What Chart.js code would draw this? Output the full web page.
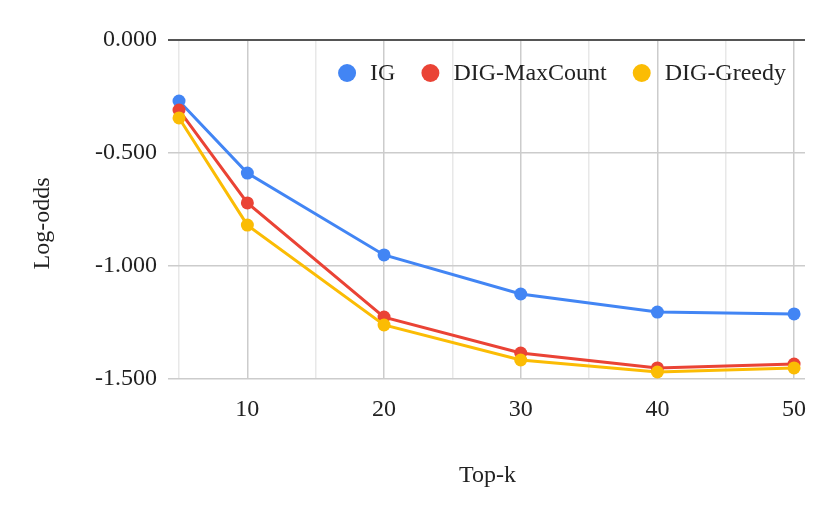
<!DOCTYPE html>
<html>
<head>
<meta charset="utf-8">
<script src="https://cdn.jsdelivr.net/npm/chart.js@4.4.1/dist/chart.umd.min.js"></script>
<style>
html,body{margin:0;padding:0;background:#fff;}
#wrap{width:830px;height:514px;}
</style>
</head>
<body>
<div id="wrap"><canvas id="c" width="830" height="514"></canvas></div>
<script>
const topK = [5, 10, 20, 30, 40, 50];
const igValues = [-0.270, -0.589, -0.951, -1.124, -1.204, -1.212];
const maxCountValues = [-0.310, -0.721, -1.226, -1.385, -1.451, -1.434];
const greedyValues = [-0.345, -0.819, -1.261, -1.416, -1.469, -1.451];
const seriesNames = ['IG', 'DIG-MaxCount', 'DIG-Greedy'];
const seriesColors = ['#4285F4', '#EA4335', '#FBBC04'];
const xTicks = [5, 10, 15, 20, 25, 30, 35, 40, 45, 50];
const xLabeled = [10, 20, 30, 40, 50];
const yTicks = [0, -0.5, -1.0, -1.5];

const FONT = "'Liberation Serif', 'Times New Roman', serif";

function pts(vals){ return topK.map((x,i)=>({x:x, y:vals[i]})); }

const allValues = [igValues, maxCountValues, greedyValues];
const datasets = allValues.map((vals, i) => ({
  label: seriesNames[i],
  data: pts(vals),
  borderColor: seriesColors[i],
  backgroundColor: seriesColors[i],
  borderWidth: 3,
  pointRadius: 6.5,
  pointHoverRadius: 6.5,
  pointBorderWidth: 0,
  tension: 0,
  order: 3 - i
}));

const customDraw = {
  id: 'customDraw',
  afterDraw(chart){
    const ctx = chart.ctx;
    const area = chart.chartArea;
    ctx.save();
    // legend
    ctx.font = '24px ' + FONT;
    ctx.textBaseline = 'middle';
    ctx.textAlign = 'left';
    const r = 9, gapText = 14, gapItem = 26;
    const widths = seriesNames.map(n => ctx.measureText(n).width);
    let total = 0;
    widths.forEach((w,i)=>{ total += 2*r + gapText + w + (i < widths.length-1 ? gapItem : 0); });
    let x = area.right - 19 - total;
    const ly = 73;
    seriesNames.forEach((n,i)=>{
      ctx.fillStyle = seriesColors[i];
      ctx.beginPath();
      ctx.arc(x + r, ly, r, 0, Math.PI*2);
      ctx.fill();
      x += 2*r + gapText;
      ctx.fillStyle = '#222';
      ctx.fillText(n, x, ly + 1);
      x += widths[i] + gapItem;
    });
    // axis titles
    ctx.fillStyle = '#222';
    ctx.textAlign = 'center';
    ctx.textBaseline = 'alphabetic';
    ctx.fillText('Top-k', (area.left + area.right)/2, 482);
    ctx.translate(49, 223.5);
    ctx.rotate(-Math.PI/2);
    ctx.fillText('Log-odds', 0, 0);
    ctx.restore();
  }
};

new Chart(document.getElementById('c'), {
  type: 'line',
  data: { datasets: datasets },
  options: {
    responsive: false,
    animation: false,
    devicePixelRatio: 1,
    layout: { padding: { left: 0, right: 25, top: 40, bottom: 0 } },
    plugins: { legend: { display: false }, tooltip: { enabled: false } },
    scales: {
      x: {
        type: 'linear',
        min: 4.34,
        max: 50.8,
        afterBuildTicks: s => { s.ticks = xTicks.map(v => ({value: v})); },
        afterFit: s => { s.height = 135; },
        border: { display: false },
        grid: {
          drawTicks: false,
          lineWidth: 1.5,
          color: c => (c.tick && xLabeled.includes(c.tick.value)) ? '#cccccc' : '#e8e8e8'
        },
        ticks: {
          autoSkip: false,
          maxRotation: 0,
          padding: 16,
          color: '#222',
          font: { family: FONT, size: 24 },
          callback: v => xLabeled.includes(v) ? String(v) : ''
        }
      },
      y: {
        type: 'linear',
        min: -1.5,
        max: 0,
        afterBuildTicks: s => { s.ticks = yTicks.map(v => ({value: v})); },
        afterFit: s => { s.width = 170; },
        border: { display: false },
        grid: {
          drawTicks: true,
          tickLength: 2,
          lineWidth: c => (c.tick && c.tick.value === 0) ? 2 : 1.5,
          color: c => (c.tick && c.tick.value === 0) ? '#555555' : '#cccccc'
        },
        ticks: {
          padding: 11,
          color: '#222',
          font: { family: FONT, size: 24 },
          callback: v => Number(v).toFixed(3)
        }
      }
    }
  },
  plugins: [customDraw]
});
</script>
</body>
</html>
